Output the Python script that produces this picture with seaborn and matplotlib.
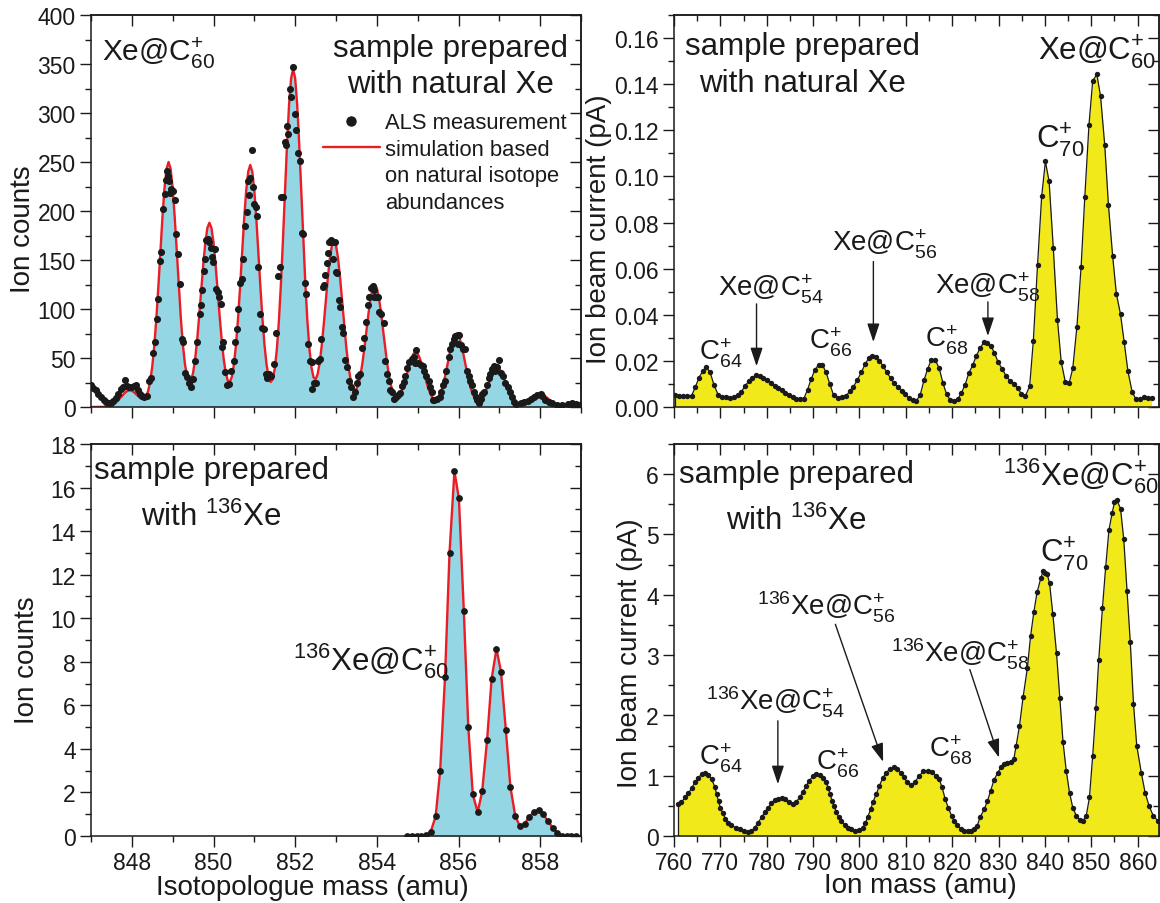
import numpy as np
import matplotlib
matplotlib.use("Agg")
import matplotlib.pyplot as plt
import seaborn as sns
from matplotlib.ticker import MultipleLocator
from matplotlib.lines import Line2D

# ---------------- data ----------------
# natural Xe, measured ion counts (isotopologue mass in amu)
tl_meas_mass = [
    847.00, 847.06, 847.12, 847.18, 847.25, 847.31, 847.37, 847.43, 847.49, 847.55,
    847.61, 847.67, 847.73, 847.78, 847.83, 847.88, 847.94, 848.00, 848.05, 848.10,
    848.15, 848.20, 848.25, 848.31, 848.37, 848.42, 848.47, 848.52, 848.57, 848.61,
    848.65, 848.69, 848.72, 848.76, 848.80, 848.83, 848.86, 848.89, 848.92, 848.94,
    848.97, 849.00, 849.05, 849.09, 849.14, 849.18, 849.22, 849.26, 849.30, 849.35,
    849.39, 849.45, 849.50, 849.55, 849.60, 849.66, 849.70, 849.73, 849.77, 849.80,
    849.82, 849.86, 849.89, 849.93, 849.96, 849.99, 850.03, 850.06, 850.10, 850.14,
    850.18, 850.21, 850.24, 850.28, 850.33, 850.38, 850.43, 850.49, 850.53, 850.57,
    850.61, 850.65, 850.69, 850.73, 850.77, 850.81, 850.84, 850.87, 850.90, 850.94,
    850.97, 850.99, 851.03, 851.06, 851.10, 851.15, 851.19, 851.23, 851.28, 851.32,
    851.37, 851.42, 851.47, 851.52, 851.57, 851.62, 851.66, 851.70, 851.74, 851.77,
    851.80, 851.83, 851.87, 851.91, 851.95, 852.00, 852.03, 852.07, 852.11, 852.16,
    852.20, 852.23, 852.27, 852.31, 852.36, 852.40, 852.42, 852.46, 852.50, 852.56,
    852.60, 852.63, 852.68, 852.71, 852.74, 852.77, 852.80, 852.84, 852.87, 852.91,
    852.97, 852.93, 852.99, 853.03, 853.07, 853.10, 853.15, 853.17, 853.22, 853.26,
    853.31, 853.36, 853.42, 853.47, 853.51, 853.55, 853.59, 853.64, 853.69, 853.74,
    853.78, 853.81, 853.85, 853.90, 853.94, 853.92, 853.98, 854.04, 854.06, 854.10,
    854.18, 854.20, 854.26, 854.30, 854.33, 854.38, 854.42, 854.47, 854.51, 854.57,
    854.62, 854.66, 854.70, 854.74, 854.79, 854.86, 854.90, 854.94, 854.96, 855.02,
    855.08, 855.13, 855.16, 855.21, 855.27, 855.31, 855.35, 855.37, 855.41, 855.47,
    855.54, 855.58, 855.62, 855.66, 855.70, 855.76, 855.80, 855.84, 855.88, 855.92,
    855.98, 856.02, 855.99, 856.05, 856.11, 856.17, 856.21, 856.25, 856.29, 856.33,
    856.37, 856.42, 856.46, 856.50, 856.54, 856.58, 856.62, 856.69, 856.74, 856.78,
    856.82, 856.86, 856.90, 856.94, 857.00, 857.04, 857.08, 857.15, 857.20, 857.26,
    857.31, 857.36, 857.42, 857.53, 857.61, 857.69, 857.77, 857.85, 857.93, 858.01,
    858.05, 858.13, 858.21, 858.30, 858.42, 858.54, 858.67, 858.77, 858.87, 858.95,
]
tl_meas_counts = [
    22, 19, 17, 13, 10, 7, 5, 4, 4, 6,
    9, 13, 18, 20, 28, 21, 20, 20, 21, 22,
    17, 13, 11, 10, 11, 27, 30, 55, 66, 90,
    110, 149, 158, 202, 217, 232, 241, 236, 231, 218,
    222, 220, 211, 177, 156, 126, 69, 66, 35, 31,
    25, 20, 29, 47, 66, 95, 104, 119, 139, 151,
    170, 171, 168, 162, 153, 148, 161, 120, 117, 112,
    105, 61, 66, 36, 22, 23, 37, 47, 66, 80,
    100, 127, 131, 151, 185, 199, 231, 216, 234, 262,
    224, 207, 204, 195, 143, 95, 81, 80, 34, 30,
    34, 32, 44, 76, 134, 143, 214, 214, 270, 267,
    287, 279, 325, 316, 347, 299, 283, 259, 251, 178,
    177, 127, 115, 64, 47, 46, 18, 24, 24, 47,
    49, 69, 122, 125, 135, 147, 157, 168, 170, 168,
    168, 151, 138, 137, 109, 102, 82, 76, 48, 41,
    27, 20, 10, 15, 25, 32, 34, 60, 70, 87,
    104, 112, 121, 123, 119, 112, 112, 112, 97, 95,
    86, 47, 34, 27, 17, 15, 8, 10, 12, 14,
    21, 26, 32, 40, 46, 49, 51, 45, 58, 45,
    43, 42, 37, 32, 27, 20, 15, 7, 7, 8,
    10, 15, 22, 27, 37, 51, 59, 64, 69, 72,
    73, 73, 64, 63, 59, 59, 37, 32, 27, 22,
    15, 10, 7, 4, 8, 13, 15, 22, 30, 34,
    39, 42, 37, 41, 48, 35, 32, 24, 20, 15,
    10, 5, 3, 4, 5, 6, 8, 10, 12, 13,
    11, 7, 5, 4, 2, 2, 3, 4, 3, 2,
]

# natural-abundance simulation, sampled every 0.05 amu from 847.00 amu
sim_start, sim_step = 847.0, 0.05
tl_sim_counts = [
    0, 0, 0, 0, 0, 0,
    0.1, 0.3, 0.5, 1.0, 1.7, 2.8, 4.2, 6.1, 8.4, 10.8, 13.2, 15.2, 16.5, 17,
    16.5, 15.2, 13.2, 11.3, 9.4, 8.1, 8.5, 10.8, 16.4, 26.3, 41.3, 62.6, 90.1, 123, 158.8, 193.8, 223.3, 243, 250,
    243, 223.3, 193.8, 158.8, 123.3, 90.7, 63.8, 44, 31.3, 25.7, 27, 34.9, 48.8, 68.7, 93, 119.4, 145.7, 167.9, 182.7, 188,
    182.7, 167.9, 145.7, 119.4, 92.9, 68.7, 48.8, 34.8, 26.9, 25.5, 30.9, 43.5, 63, 89.6, 121.8, 156.8, 191.4, 220.6, 240.1, 247,
    240.1, 220.6, 191.4, 156.8, 121.5, 89.5, 62.8, 43.1, 30.7, 25.5, 28.2, 39, 58.2, 86.9, 124.6, 169.7, 219.1, 267.4, 308.1, 335.3, 345,
    335.3, 308.1, 267.4, 219.1, 170, 124.9, 87.3, 59.1, 40.2, 30.3, 28.2, 33.5, 45.1, 62.5, 84.2, 108, 131.8, 151.8, 165.2, 170,
    165.2, 151.8, 131.8, 108, 83.8, 61.7, 43.3, 29.8, 21.2, 17.3, 18, 23.3, 32.5, 45.7, 61.8, 79.4, 96.9, 111.6, 121.5, 125,
    121.5, 111.6, 96.9, 79.4, 61.5, 45.2, 31.6, 21.4, 14.4, 10.6, 9.7, 11.2, 14.9, 20.7, 27.8, 35.6, 43.4, 50, 54.4, 56,
    54.4, 50, 43.4, 35.6, 27.6, 20.5, 14.5, 10.4, 8.1, 7.7, 9.4, 13.2, 19.2, 27.2, 36.9, 47.6, 58.1, 67, 72.9, 75,
    72.9, 67, 58.1, 47.6, 36.9, 27.1, 19, 12.9, 8.9, 6.7, 6.4, 7.8, 10.6, 14.7, 19.7, 25.4, 31, 35.7, 38.9, 40,
    38.9, 35.7, 31, 25.4, 19.7, 14.4, 10, 6.6, 4.2, 2.7, 2.1, 2, 2.4, 3.2, 4.7, 6.4, 8.3, 10.1, 11.6, 12.6, 13,
    12.6, 11.6, 10.1, 8.3, 6.4, 4.7, 3.2, 2.1, 1.3, 0.8, 0.4, 0.2, 0, 0, 0, 0, 0, 0, 0, 0,
]

# 136Xe sample, measured ion counts
bl_mass = [
    854.75, 854.86, 854.98, 855.09, 855.21, 855.32, 855.44, 855.55, 855.67, 855.78,
    855.90, 856.01, 856.13, 856.24, 856.35, 856.47, 856.58, 856.70, 856.81, 856.93,
    857.04, 857.16, 857.27, 857.39, 857.50, 857.62, 857.73, 857.85, 857.96, 858.08,
    858.19, 858.31, 858.42, 858.54, 858.65, 858.76, 858.88,
]
bl_counts = [
    0, 0, 0, 0, 0.05, 0.2, 0.9, 2.97, 7.3, 13.0,
    16.75, 15.5, 10.35, 5.0, 1.91, 1.09, 2.06, 4.4, 7.2, 8.6,
    7.55, 4.85, 2.27, 0.92, 0.46, 0.57, 0.87, 1.11, 1.19, 0.99,
    0.68, 0.37, 0.15, 0.02, 0, 0, 0,
]

# natural Xe sample, ion beam current (pA) vs ion mass (amu)
tr_mass = [
    760.2, 761.1, 762.0, 762.9, 763.8, 764.6, 765.4, 766.2, 767.0, 767.8,
    768.6, 769.5, 770.3, 771.2, 772.1, 772.9, 773.7, 774.5, 775.3, 776.1,
    776.9, 777.7, 778.5, 779.3, 780.1, 780.9, 781.7, 782.5, 783.3, 784.0,
    784.8, 785.6, 786.4, 787.2, 788.0, 788.8, 789.6, 790.4, 791.2, 792.0,
    792.8, 793.6, 794.4, 795.3, 796.2, 797.1, 797.9, 798.7, 799.5, 800.4,
    801.2, 802.0, 802.8, 803.6, 804.3, 805.1, 805.9, 806.7, 807.5, 808.3,
    809.1, 809.9, 810.7, 811.5, 812.3, 813.1, 813.9, 814.7, 815.5, 816.3,
    817.2, 818.0, 818.8, 819.6, 820.4, 821.2, 822.0, 822.8, 823.6, 824.4,
    825.2, 826.0, 826.8, 827.5, 828.3, 829.1, 829.9, 830.8, 831.6, 832.4,
    833.3, 834.1, 834.9, 835.8, 836.7, 837.5, 838.4, 839.3, 840.1, 840.9,
    841.8, 842.7, 843.5, 844.4, 845.2, 846.0, 846.9, 847.8, 848.6, 849.5,
    850.3, 851.2, 852.0, 852.9, 853.7, 854.6, 855.4, 856.3, 857.1, 857.9,
    858.8, 859.6, 860.5, 861.3, 862.2, 863.0,
]
tr_current = [
    0.0050, 0.0048, 0.0046, 0.0049, 0.0049, 0.0087, 0.0127, 0.0157, 0.0172, 0.0150,
    0.0097, 0.0054, 0.0042, 0.0043, 0.0038, 0.0043, 0.0053, 0.0065, 0.0091, 0.0111,
    0.0126, 0.0139, 0.0134, 0.0127, 0.0118, 0.0104, 0.0091, 0.0083, 0.0073, 0.0062,
    0.0052, 0.0043, 0.0036, 0.0035, 0.0036, 0.0075, 0.0122, 0.0162, 0.0183, 0.0183,
    0.0150, 0.0100, 0.0052, 0.0040, 0.0045, 0.0048, 0.0068, 0.0088, 0.0116, 0.0150,
    0.0185, 0.0212, 0.0220, 0.0218, 0.0200, 0.0178, 0.0150, 0.0126, 0.0102, 0.0085,
    0.0070, 0.0055, 0.0040, 0.0032, 0.0028, 0.0052, 0.0115, 0.0165, 0.0205, 0.0205,
    0.0168, 0.0104, 0.0055, 0.0030, 0.0025, 0.0034, 0.0062, 0.0097, 0.0148, 0.0180,
    0.0222, 0.0255, 0.0280, 0.0279, 0.0266, 0.0235, 0.0195, 0.0164, 0.0136, 0.0114,
    0.0100, 0.0083, 0.0058, 0.0048, 0.0090, 0.0288, 0.0614, 0.0915, 0.1065, 0.0978,
    0.0690, 0.0378, 0.0197, 0.0108, 0.0102, 0.0167, 0.0349, 0.0609, 0.0912, 0.1224,
    0.1415, 0.1442, 0.1347, 0.1135, 0.0875, 0.0655, 0.0492, 0.0402, 0.0280, 0.0155,
    0.0066, 0.0035, 0.0034, 0.0042, 0.0040, 0.0038,
]

# 136Xe sample, ion beam current (pA) vs ion mass (amu)
br_mass = [
    760.9, 761.6, 762.4, 763.1, 763.8, 764.5, 765.2, 766.0, 766.7, 767.4,
    768.1, 768.8, 769.2, 769.6, 770.0, 770.5, 771.1, 771.7, 772.4, 773.3,
    774.2, 775.1, 776.0, 776.7, 777.4, 778.1, 778.9, 779.6, 780.3, 781.0,
    781.7, 782.4, 783.2, 783.9, 784.7, 785.6, 786.4, 787.1, 787.8, 788.5,
    789.2, 790.0, 790.7, 791.4, 792.1, 792.8, 793.3, 793.7, 794.1, 794.5,
    795.0, 795.5, 796.1, 796.8, 797.5, 798.2, 799.1, 800.0, 800.7, 801.3,
    801.8, 802.4, 802.9, 803.6, 804.3, 805.0, 805.7, 806.5, 807.4, 808.2,
    808.9, 809.6, 810.3, 811.1, 812.0, 812.9, 813.8, 814.7, 815.6, 816.5,
    817.2, 817.8, 818.5, 819.2, 819.9, 820.4, 821.1, 821.9, 822.6, 823.3,
    824.0, 824.7, 825.4, 826.0, 826.9, 827.6, 828.3, 829.0, 829.8, 830.5,
    831.2, 831.9, 832.6, 833.3, 833.8, 834.5, 835.3, 836.2, 836.9, 837.6,
    838.3, 839.1, 839.6, 840.1, 840.5, 841.0, 841.7, 842.5, 843.2, 843.9,
    844.6, 845.3, 846.0, 846.8, 847.5, 848.2, 848.9, 849.6, 850.3, 851.0,
    851.6, 852.4, 853.1, 853.8, 854.5, 855.0, 855.5, 856.3, 857.0, 857.7,
    858.4, 859.1, 859.8, 860.8, 861.6, 862.5, 863.4, 864.4,
]
br_current = [
    0.53, 0.56, 0.64, 0.71, 0.79, 0.89, 0.96, 1.03, 1.04, 1.01,
    0.94, 0.82, 0.69, 0.58, 0.47, 0.38, 0.29, 0.22, 0.18, 0.14,
    0.11, 0.08, 0.07, 0.08, 0.14, 0.22, 0.31, 0.40, 0.47, 0.54,
    0.60, 0.62, 0.63, 0.61, 0.57, 0.53, 0.57, 0.64, 0.73, 0.83,
    0.92, 0.99, 1.03, 1.01, 0.96, 0.89, 0.79, 0.69, 0.58, 0.50,
    0.40, 0.32, 0.25, 0.18, 0.14, 0.11, 0.09, 0.10, 0.14, 0.22,
    0.32, 0.44, 0.56, 0.69, 0.83, 0.96, 1.04, 1.11, 1.14, 1.11,
    1.05, 0.98, 0.89, 0.84, 0.90, 1.00, 1.07, 1.08, 1.06, 0.99,
    0.94, 0.81, 0.61, 0.46, 0.33, 0.25, 0.18, 0.12, 0.09, 0.08,
    0.08, 0.11, 0.17, 0.31, 0.44, 0.58, 0.75, 0.93, 1.04, 1.14,
    1.19, 1.21, 1.23, 1.28, 1.50, 1.82, 2.31, 2.78, 3.31, 3.71,
    4.04, 4.27, 4.39, 4.36, 4.34, 4.19, 3.68, 3.03, 2.29, 1.56,
    1.08, 0.72, 0.47, 0.33, 0.27, 0.25, 0.33, 0.64, 1.33, 2.12,
    2.92, 3.78, 4.46, 5.07, 5.36, 5.53, 5.57, 5.43, 4.92, 4.07,
    3.22, 2.19, 1.50, 1.04, 0.72, 0.49, 0.33, 0.25,
]

# ---------------- style ----------------
sns.set_theme(style="ticks")
plt.rcParams["font.family"] = ["Liberation Sans", "DejaVu Sans"]
plt.rcParams["mathtext.fontset"] = "custom"
plt.rcParams["mathtext.rm"] = "Liberation Sans"
plt.rcParams["mathtext.it"] = "Liberation Sans"
plt.rcParams["mathtext.bf"] = "Liberation Sans:bold"
plt.rcParams["mathtext.default"] = "regular"

INK = "#1a1a1a"
BLUE = "#94d6e4"
RED = "#ec1c24"
YELLOW = "#f2e91b"

TICK_FS = 16.5
LABEL_FS = 20
NOTE_FS = 20
BIG_FS = 22.5

W, H = 1160, 904
fig = plt.figure(figsize=(W / 100, H / 100), dpi=100)


def panel(left, right, top, bottom):
    return fig.add_axes([left / W, 1 - bottom / H, (right - left) / W, (bottom - top) / H])


ax_tl = panel(91, 581, 16, 408)
ax_bl = panel(91, 581, 445, 837)
ax_tr = panel(674, 1159, 16, 408)
ax_br = panel(674, 1159, 445, 837)


def frame(ax, xlim, ylim, xmaj, xmin, ymaj, ymin, show_xlabels, yfmt=None):
    ax.set_xlim(*xlim)
    ax.set_ylim(*ylim)
    for s in ax.spines.values():
        s.set_visible(True)
        s.set_linewidth(1.1)
        s.set_color(INK)
    ax.xaxis.set_major_locator(MultipleLocator(xmaj))
    ax.xaxis.set_minor_locator(MultipleLocator(xmin))
    ax.yaxis.set_major_locator(MultipleLocator(ymaj))
    ax.yaxis.set_minor_locator(MultipleLocator(ymin))
    ax.tick_params(which="both", direction="out", color=INK, width=1.0,
                   top=False, right=False, labelsize=TICK_FS, labelcolor=INK, pad=3)
    ax.tick_params(which="major", length=8)
    ax.tick_params(which="minor", length=4.5)
    ax.tick_params(axis="x", labelbottom=show_xlabels)
    if yfmt:
        ax.yaxis.set_major_formatter(yfmt)
    # inward ticks on the top and right edges
    top = ax.secondary_xaxis("top")
    top.xaxis.set_major_locator(MultipleLocator(xmaj))
    top.xaxis.set_minor_locator(MultipleLocator(xmin))
    top.tick_params(which="both", direction="in", color=INK, width=1.0, labeltop=False)
    top.tick_params(which="major", length=8)
    top.tick_params(which="minor", length=4.5)
    top.spines["top"].set_linewidth(1.1)
    right = ax.secondary_yaxis("right")
    right.yaxis.set_major_locator(MultipleLocator(ymaj))
    right.yaxis.set_minor_locator(MultipleLocator(ymin))
    right.tick_params(which="both", direction="in", color=INK, width=1.0, labelright=False)
    right.tick_params(which="major", length=8)
    right.tick_params(which="minor", length=4.5)
    right.spines["right"].set_linewidth(1.1)


# ---------------- top left: natural Xe, isotopologues ----------------
sim_mass = sim_start + sim_step * np.arange(len(tl_sim_counts))
ax_tl.fill_between(sim_mass, 0, tl_sim_counts, color=BLUE, lw=0, zorder=1)
sns.lineplot(x=sim_mass, y=tl_sim_counts, ax=ax_tl, color=RED, lw=1.7,
             estimator=None, sort=False, zorder=2)
sns.scatterplot(x=tl_meas_mass, y=tl_meas_counts, ax=ax_tl, color=INK, s=26,
                linewidth=0, zorder=3)
frame(ax_tl, (847, 859), (0, 400), 2, 1, 50, 25, False)
ax_tl.set_xlabel("")
ax_tl.set_ylabel("Ion counts", fontsize=LABEL_FS, color=INK)
ax_tl.yaxis.set_label_coords(-0.112, 0.455)

ax_tl.text(847.27, 354, r"Xe@C$_{60}^{+}$", fontsize=NOTE_FS + 1.5, color=INK,
           ha="left", va="baseline")
ax_tl.text(855.8, 358, "sample prepared", fontsize=BIG_FS, color=INK, ha="center", va="baseline")
ax_tl.text(855.8, 321, "with natural Xe", fontsize=BIG_FS, color=INK, ha="center", va="baseline")

# legend: the simulation entry wraps over three rows, with the line beside the first
blank = Line2D([], [], color="none")
handles = [Line2D([], [], marker="o", ls="none", color=INK, markersize=6.5),
           Line2D([], [], color=RED, lw=1.7), blank, blank]
labels = ["ALS measurement", "simulation based", "on natural isotope", "abundances"]
ax_tl.legend(handles, labels, loc="upper left", bbox_to_anchor=(0.473, 0.752),
             frameon=False, fontsize=15.8, handlelength=2.6, handletextpad=0.25,
             labelspacing=0.25, borderaxespad=0, borderpad=0, labelcolor=INK)

# ---------------- bottom left: 136Xe, isotopologues ----------------
bl_m = np.array(bl_mass)
bl_c = np.array(bl_counts)
nz = np.nonzero(bl_c > 0.01)[0]
sim_sel = slice(max(nz[0] - 1, 0), nz[-1] + 2)
ax_bl.fill_between(bl_m[sim_sel], 0, bl_c[sim_sel], color=BLUE, lw=0, zorder=1)
sns.lineplot(x=bl_m[sim_sel], y=bl_c[sim_sel], ax=ax_bl, color=RED, lw=1.7,
             estimator=None, sort=False, zorder=2)
sns.scatterplot(x=bl_m, y=bl_c, ax=ax_bl, color=INK, s=24, linewidth=0, zorder=3)
frame(ax_bl, (847, 859), (0, 18), 2, 1, 2, 1, True)
ax_bl.set_xlabel("Isotopologue mass (amu)", fontsize=LABEL_FS, color=INK)
ax_bl.xaxis.set_label_coords(0.451, -0.098)
ax_bl.set_ylabel("Ion counts", fontsize=LABEL_FS, color=INK)
ax_bl.yaxis.set_label_coords(-0.104, 0.452)

ax_bl.text(849.94, 16.45, "sample prepared", fontsize=BIG_FS, color=INK, ha="center", va="baseline")
ax_bl.text(849.94, 14.3, r"with $^{136}$Xe", fontsize=BIG_FS, color=INK, ha="center", va="baseline")
ax_bl.text(851.94, 7.65, r"$^{136}$Xe@C$_{60}^{+}$", fontsize=BIG_FS, color=INK,
           ha="left", va="baseline")

# ---------------- right panels: ion beam current ----------------
ARROW = dict(arrowstyle="-|>,head_length=0.75,head_width=0.25", color=INK, lw=1.0,
             mutation_scale=15, shrinkA=0, shrinkB=0)


def current_panel(ax, mass, current, ylim, ymaj, ymin, show_xlabels, yfmt):
    ax.fill_between(mass, 0, current, color=YELLOW, lw=0, zorder=1)
    ax.vlines(mass[0], 0, current[0], color=INK, lw=0.9, zorder=2)
    sns.lineplot(x=mass, y=current, ax=ax, color=INK, lw=0.9, estimator=None,
                 sort=False, zorder=2)
    sns.scatterplot(x=mass, y=current, ax=ax, color=INK, s=15, linewidth=0, zorder=3)
    frame(ax, (760, 864.6), ylim, 10, 5, ymaj, ymin, show_xlabels, yfmt)
    ax.set_ylabel("Ion beam current (pA)", fontsize=LABEL_FS, color=INK)


current_panel(ax_tr, tr_mass, tr_current, (0, 0.17), 0.02, 0.01, False, "{x:.2f}")
ax_tr.set_xlabel("")
ax_tr.yaxis.set_label_coords(-0.128, 0.455)

ax_tr.text(787.7, 0.1531, "sample prepared", fontsize=BIG_FS, color=INK, ha="center", va="baseline")
ax_tr.text(787.7, 0.137, "with natural Xe", fontsize=BIG_FS, color=INK, ha="center", va="baseline")
ax_tr.text(838.6, 0.151, r"Xe@C$_{60}^{+}$", fontsize=BIG_FS, color=INK, ha="left", va="baseline")
ax_tr.text(838.1, 0.1125, r"C$_{70}^{+}$", fontsize=BIG_FS, color=INK, ha="left", va="baseline")
ax_tr.text(765.4, 0.0208, r"C$_{64}^{+}$", fontsize=NOTE_FS, color=INK, ha="left", va="baseline")
ax_tr.text(789.2, 0.0252, r"C$_{66}^{+}$", fontsize=NOTE_FS, color=INK, ha="left", va="baseline")
ax_tr.text(814.2, 0.0261, r"C$_{68}^{+}$", fontsize=NOTE_FS, color=INK, ha="left", va="baseline")
ax_tr.text(769.4, 0.0483, r"Xe@C$_{54}^{+}$", fontsize=NOTE_FS, color=INK, ha="left", va="baseline")
ax_tr.text(794.0, 0.0680, r"Xe@C$_{56}^{+}$", fontsize=NOTE_FS, color=INK, ha="left", va="baseline")
ax_tr.text(816.3, 0.0492, r"Xe@C$_{58}^{+}$", fontsize=NOTE_FS, color=INK, ha="left", va="baseline")
ax_tr.annotate("", xy=(777.8, 0.0177), xytext=(777.8, 0.0447), arrowprops=ARROW)
ax_tr.annotate("", xy=(803.0, 0.0282), xytext=(803.0, 0.0631), arrowprops=ARROW)
ax_tr.annotate("", xy=(827.7, 0.0308), xytext=(827.7, 0.0456), arrowprops=ARROW)

current_panel(ax_br, br_mass, br_current, (0, 6.5), 1, 0.5, True, None)
ax_br.set_xlabel("Ion mass (amu)", fontsize=LABEL_FS, color=INK)
ax_br.xaxis.set_label_coords(0.507, -0.092)
ax_br.yaxis.set_label_coords(-0.064, 0.469)

ax_br.text(786.5, 5.87, "sample prepared", fontsize=BIG_FS, color=INK, ha="center", va="baseline")
ax_br.text(786.5, 5.09, r"with $^{136}$Xe", fontsize=BIG_FS, color=INK, ha="center", va="baseline")
ax_br.text(830.9, 5.83, r"$^{136}$Xe@C$_{60}^{+}$", fontsize=BIG_FS, color=INK, ha="left", va="baseline")
ax_br.text(838.9, 4.56, r"C$_{70}^{+}$", fontsize=BIG_FS, color=INK, ha="left", va="baseline")
ax_br.text(765.3, 1.19, r"C$_{64}^{+}$", fontsize=NOTE_FS, color=INK, ha="left", va="baseline")
ax_br.text(790.7, 1.11, r"C$_{66}^{+}$", fontsize=NOTE_FS, color=INK, ha="left", va="baseline")
ax_br.text(815.0, 1.31, r"C$_{68}^{+}$", fontsize=NOTE_FS, color=INK, ha="left", va="baseline")
ax_br.text(766.9, 2.10, r"$^{136}$Xe@C$_{54}^{+}$", fontsize=NOTE_FS, color=INK, ha="left", va="baseline")
ax_br.text(777.8, 3.68, r"$^{136}$Xe@C$_{56}^{+}$", fontsize=NOTE_FS, color=INK, ha="left", va="baseline")
ax_br.text(806.7, 2.90, r"$^{136}$Xe@C$_{58}^{+}$", fontsize=NOTE_FS, color=INK, ha="left", va="baseline")
ax_br.annotate("", xy=(782.4, 0.86), xytext=(782.4, 1.91), arrowprops=ARROW)
ax_br.annotate("", xy=(805.1, 1.23), xytext=(794.8, 3.51), arrowprops=ARROW)
ax_br.annotate("", xy=(830.1, 1.30), xytext=(823.8, 2.76), arrowprops=ARROW)

fig.savefig("out.png", dpi=100)
